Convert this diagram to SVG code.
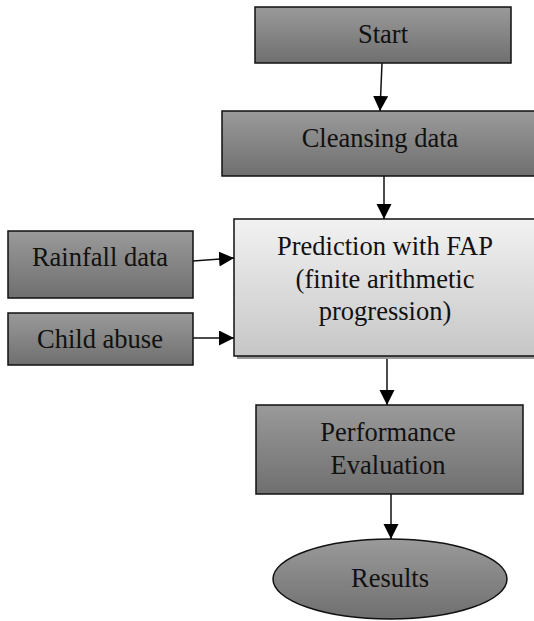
<svg xmlns="http://www.w3.org/2000/svg" width="534" height="621" viewBox="0 0 534 621">
<defs>
<linearGradient id="dark" x1="0" y1="0" x2="0" y2="1">
<stop offset="0" stop-color="#9a9a9a"/>
<stop offset="1" stop-color="#6f6f6f"/>
</linearGradient>
<linearGradient id="light" x1="0" y1="0" x2="0" y2="1">
<stop offset="0" stop-color="#f2f2f2"/>
<stop offset="1" stop-color="#c6c6c6"/>
</linearGradient>
<marker id="arrv" markerWidth="16" markerHeight="16" refX="15" refY="7.5" orient="auto" markerUnits="userSpaceOnUse">
<path d="M0,0 L15,7.5 L0,15 Z" fill="#000"/>
</marker>
</defs>
<style>
.box{fill:url(#dark);stroke:#111;stroke-width:1.5}
.lbox{fill:url(#light);stroke:#111;stroke-width:1.5}
.t{font-family:'Liberation Serif','Times New Roman',Times,serif;font-size:26.5px;fill:#111;text-anchor:middle}
.edge{stroke:#111;stroke-width:1.5;fill:none;marker-end:url(#arrv)}
</style>
<rect width="534" height="621" fill="#fff"/>
<g id="start">
<rect class="box" x="255" y="7" width="256" height="56"/>
<text class="t" x="383" y="43">Start</text>
</g>
<g id="cleansing">
<rect class="box" x="222" y="111" width="314" height="65"/>
<text class="t" x="380" y="147">Cleansing data</text>
</g>
<g id="prediction">
<rect x="237" y="222" width="300" height="137" fill="#555" opacity="0.6"/>
<rect class="lbox" x="234" y="219" width="302" height="137"/>
<text class="t" x="385" y="255">Prediction with FAP</text>
<text class="t" x="385" y="288">(finite arithmetic</text>
<text class="t" x="385" y="320">progression)</text>
</g>
<g id="rainfall">
<rect class="box" x="8" y="231" width="185" height="67"/>
<text class="t" x="100" y="266">Rainfall data</text>
</g>
<g id="childabuse">
<rect class="box" x="8" y="313" width="185" height="52"/>
<text class="t" x="100" y="348">Child abuse</text>
</g>
<g id="performance">
<rect class="box" x="256" y="405" width="267" height="89"/>
<text class="t" x="388" y="441">Performance</text>
<text class="t" x="388" y="474">Evaluation</text>
</g>
<g id="results">
<ellipse cx="390" cy="579" rx="117" ry="40" fill="url(#dark)" stroke="#111" stroke-width="1.5"/>
<text class="t" x="390" y="587">Results</text>
</g>
<g id="connectors">
<line class="edge" x1="382" y1="63" x2="380" y2="111"/>
<line class="edge" x1="384" y1="176" x2="384" y2="219"/>
<line class="edge" x1="193" y1="261" x2="234" y2="258"/>
<line class="edge" x1="193" y1="338" x2="234" y2="338"/>
<line class="edge" x1="387" y1="359" x2="387" y2="405"/>
<line class="edge" x1="391" y1="494" x2="391" y2="539"/>
</g>
</svg>
